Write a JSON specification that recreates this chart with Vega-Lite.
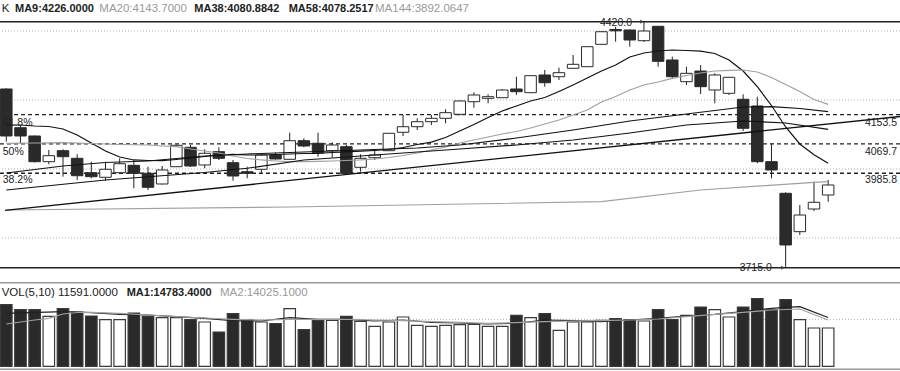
{
"$schema":"https://vega.github.io/schema/vega-lite/v6.json",
"width":900,"height":371,"autosize":{"type":"none"},"padding":0,"background":"white",
"config":{"view":{"stroke":null},"scale":{"continuousPadding":0}},
"datasets":{
"candles":[
{"i":0,"o":4227.2,"h":4229,"l":4076.2,"c":4092.5,"v":18670,"d":"dn"},
{"i":1,"o":4116.3,"h":4121.1,"l":4071.6,"c":4092.5,"v":17157,"d":"dn"},
{"i":2,"o":4092.5,"h":4094,"l":4016.6,"c":4018.9,"v":17157,"d":"dn"},
{"i":3,"o":4018.9,"h":4052.4,"l":4011.4,"c":4036.1,"v":15130,"d":"up"},
{"i":4,"o":4050.4,"h":4054.4,"l":3975.9,"c":4033.2,"v":17460,"d":"dn"},
{"i":5,"o":4028.6,"h":4040.1,"l":3966.4,"c":3978.7,"v":16431,"d":"dn"},
{"i":6,"o":3987.3,"h":4018.9,"l":3971.3,"c":3975.9,"v":15221,"d":"dn"},
{"i":7,"o":3974.2,"h":4018.9,"l":3964.4,"c":3997.1,"v":14131,"d":"up"},
{"i":8,"o":3987.3,"h":4028.6,"l":3986.5,"c":4013.1,"v":14131,"d":"up"},
{"i":9,"o":4008.5,"h":4023.7,"l":3942.6,"c":3985.6,"v":16129,"d":"dn"},
{"i":10,"o":3985.6,"h":4004.5,"l":3937.8,"c":3945.5,"v":15130,"d":"dn"},
{"i":11,"o":3955,"h":4006.5,"l":3953.5,"c":3995.1,"v":14737,"d":"up"},
{"i":12,"o":4004.5,"h":4068,"l":4003.7,"c":4065.8,"v":14737,"d":"up"},
{"i":13,"o":4060.1,"h":4066.7,"l":4003.7,"c":4006.5,"v":14131,"d":"dn"},
{"i":14,"o":4009.4,"h":4054.4,"l":4000,"c":4042.9,"v":13405,"d":"up"},
{"i":15,"o":4047.5,"h":4060.1,"l":4023.7,"c":4028.6,"v":10379,"d":"dn"},
{"i":16,"o":4016,"h":4023.7,"l":3964.4,"c":3977.9,"v":15947,"d":"dn"},
{"i":17,"o":3990.2,"h":4004.5,"l":3971.3,"c":3985.6,"v":14131,"d":"dn"},
{"i":18,"o":3997.1,"h":4041,"l":3987.3,"c":4038.1,"v":13405,"d":"up"},
{"i":19,"o":4038.1,"h":4044.6,"l":4025.2,"c":4026.6,"v":12921,"d":"dn"},
{"i":20,"o":4025.7,"h":4102,"l":4025.2,"c":4079,"v":17460,"d":"up"},
{"i":21,"o":4079,"h":4085.9,"l":4060.1,"c":4063.8,"v":11105,"d":"dn"},
{"i":22,"o":4071.6,"h":4102,"l":4033.2,"c":4044.6,"v":13920,"d":"dn"},
{"i":23,"o":4050.4,"h":4074.4,"l":4031.5,"c":4066.7,"v":13920,"d":"up"},
{"i":24,"o":4061.8,"h":4066.7,"l":3980.8,"c":3985.6,"v":15130,"d":"dn"},
{"i":25,"o":4002.8,"h":4040.1,"l":3990.2,"c":4028.6,"v":13617,"d":"up"},
{"i":26,"o":4030.3,"h":4050.4,"l":4023.7,"c":4038.1,"v":12104,"d":"up"},
{"i":27,"o":4050.4,"h":4101,"l":4049.5,"c":4100.2,"v":13405,"d":"up"},
{"i":28,"o":4103.1,"h":4152.7,"l":4092.5,"c":4119.1,"v":14918,"d":"up"},
{"i":29,"o":4119.1,"h":4143.2,"l":4109.7,"c":4133.5,"v":12407,"d":"up"},
{"i":30,"o":4133.5,"h":4152.7,"l":4124,"c":4143.2,"v":12104,"d":"up"},
{"i":31,"o":4143.2,"h":4169,"l":4128.9,"c":4159.3,"v":12407,"d":"up"},
{"i":32,"o":4154.7,"h":4194.2,"l":4151.2,"c":4192.8,"v":12618,"d":"up"},
{"i":33,"o":4190.8,"h":4217.7,"l":4173.6,"c":4210,"v":12709,"d":"up"},
{"i":34,"o":4200.5,"h":4212,"l":4186.2,"c":4205.1,"v":12104,"d":"up"},
{"i":35,"o":4202.2,"h":4227.2,"l":4201.4,"c":4224.3,"v":12104,"d":"up"},
{"i":36,"o":4227.2,"h":4262.4,"l":4210,"c":4219.4,"v":15433,"d":"dn"},
{"i":37,"o":4216.6,"h":4266.4,"l":4215.7,"c":4265.3,"v":14737,"d":"up"},
{"i":38,"o":4267.3,"h":4281.6,"l":4233.8,"c":4245.2,"v":15947,"d":"dn"},
{"i":39,"o":4262.4,"h":4288.2,"l":4253,"c":4273.9,"v":10894,"d":"up"},
{"i":40,"o":4286.5,"h":4324.6,"l":4286,"c":4297.9,"v":13405,"d":"up"},
{"i":41,"o":4291.1,"h":4349.5,"l":4290.2,"c":4348.4,"v":13405,"d":"up"},
{"i":42,"o":4355.2,"h":4392.5,"l":4354.1,"c":4391.3,"v":13920,"d":"up"},
{"i":43,"o":4397.7,"h":4405.7,"l":4362.7,"c":4393.9,"v":14434,"d":"dn"},
{"i":44,"o":4396.2,"h":4397.7,"l":4348.4,"c":4367.6,"v":14131,"d":"dn"},
{"i":45,"o":4365.6,"h":4420,"l":4361.8,"c":4393.4,"v":13708,"d":"up"},
{"i":46,"o":4406.8,"h":4407.7,"l":4291.1,"c":4306.5,"v":17157,"d":"dn"},
{"i":47,"o":4310.3,"h":4319.7,"l":4257.8,"c":4262.4,"v":14131,"d":"dn"},
{"i":48,"o":4248.1,"h":4291.1,"l":4238.6,"c":4272.1,"v":15433,"d":"up"},
{"i":49,"o":4278.7,"h":4295.9,"l":4212.8,"c":4233.8,"v":17944,"d":"dn"},
{"i":50,"o":4224.3,"h":4272.1,"l":4186.2,"c":4267.3,"v":17157,"d":"up"},
{"i":51,"o":4214.8,"h":4261.5,"l":4210,"c":4260.7,"v":14918,"d":"up"},
{"i":52,"o":4197.7,"h":4212,"l":4106.8,"c":4114.6,"v":17944,"d":"dn"},
{"i":53,"o":4178.5,"h":4205.1,"l":4014.3,"c":4018.9,"v":20486,"d":"dn"},
{"i":54,"o":4018.9,"h":4071.6,"l":3971.3,"c":3995.1,"v":17157,"d":"dn"},
{"i":55,"o":3928.3,"h":3931.2,"l":3715,"c":3780.2,"v":20183,"d":"dn"},
{"i":56,"o":3818.3,"h":3894.8,"l":3808.8,"c":3866.1,"v":14131,"d":"up"},
{"i":57,"o":3883.3,"h":3961.6,"l":3877.6,"c":3902.5,"v":11591,"d":"up"},
{"i":58,"o":3923.4,"h":3966.4,"l":3904.2,"c":3952.1,"v":11591,"d":"up"}
],
"ma":[
{"s":"MA9","i":0,"p":4124.0},{"s":"MA9","i":1,"p":4124.0},{"s":"MA9","i":2,"p":4121.2},{"s":"MA9","i":3,"p":4119.7},{"s":"MA9","i":4,"p":4112.6},{"s":"MA9","i":5,"p":4095.4},{"s":"MA9","i":6,"p":4072.5},{"s":"MA9","i":7,"p":4049.5},{"s":"MA9","i":8,"p":4032.3},{"s":"MA9","i":9,"p":4023.8},{"s":"MA9","i":10,"p":4022.3},{"s":"MA9","i":11,"p":4021.7},{"s":"MA9","i":12,"p":4025.2},{"s":"MA9","i":13,"p":4029.5},{"s":"MA9","i":14,"p":4033.8},{"s":"MA9","i":15,"p":4038.1},{"s":"MA9","i":16,"p":4040.1},{"s":"MA9","i":17,"p":4038.1},{"s":"MA9","i":18,"p":4038.1},{"s":"MA9","i":19,"p":4039.5},{"s":"MA9","i":20,"p":4040.9},{"s":"MA9","i":21,"p":4042.4},{"s":"MA9","i":22,"p":4042.9},{"s":"MA9","i":23,"p":4045.2},{"s":"MA9","i":24,"p":4047.2},{"s":"MA9","i":25,"p":4049.0},{"s":"MA9","i":26,"p":4051.0},{"s":"MA9","i":27,"p":4053.8},{"s":"MA9","i":28,"p":4059.6},{"s":"MA9","i":29,"p":4068.2},{"s":"MA9","i":30,"p":4074.8},{"s":"MA9","i":31,"p":4088.2},{"s":"MA9","i":32,"p":4106.8},{"s":"MA9","i":33,"p":4125.5},{"s":"MA9","i":34,"p":4145.5},{"s":"MA9","i":35,"p":4164.2},{"s":"MA9","i":36,"p":4178.5},{"s":"MA9","i":37,"p":4192.8},{"s":"MA9","i":38,"p":4202.8},{"s":"MA9","i":39,"p":4220.0},{"s":"MA9","i":40,"p":4238.6},{"s":"MA9","i":41,"p":4258.7},{"s":"MA9","i":42,"p":4278.8},{"s":"MA9","i":43,"p":4296.0},{"s":"MA9","i":44,"p":4318.9},{"s":"MA9","i":45,"p":4330.3},{"s":"MA9","i":46,"p":4336.1},{"s":"MA9","i":47,"p":4338.9},{"s":"MA9","i":48,"p":4337.5},{"s":"MA9","i":49,"p":4335.5},{"s":"MA9","i":50,"p":4328.9},{"s":"MA9","i":51,"p":4310.3},{"s":"MA9","i":52,"p":4278.8},{"s":"MA9","i":53,"p":4233.8},{"s":"MA9","i":54,"p":4179.9},{"s":"MA9","i":55,"p":4118.3},{"s":"MA9","i":56,"p":4069.6},{"s":"MA9","i":57,"p":4038.9},{"s":"MA9","i":58,"p":4014.3},
{"s":"MA20","i":0,"p":4071.6},{"s":"MA20","i":2,"p":4072.5},{"s":"MA20","i":4,"p":4073.3},{"s":"MA20","i":6,"p":4071.0},{"s":"MA20","i":8,"p":4068.2},{"s":"MA20","i":10,"p":4066.7},{"s":"MA20","i":11,"p":4063.9},{"s":"MA20","i":12,"p":4061.9},{"s":"MA20","i":13,"p":4055.3},{"s":"MA20","i":14,"p":4049.5},{"s":"MA20","i":15,"p":4043.8},{"s":"MA20","i":16,"p":4035.2},{"s":"MA20","i":17,"p":4028.0},{"s":"MA20","i":18,"p":4023.8},{"s":"MA20","i":19,"p":4020.9},{"s":"MA20","i":20,"p":4018.9},{"s":"MA20","i":21,"p":4018.9},{"s":"MA20","i":22,"p":4019.5},{"s":"MA20","i":23,"p":4020.9},{"s":"MA20","i":24,"p":4022.3},{"s":"MA20","i":25,"p":4023.8},{"s":"MA20","i":26,"p":4026.6},{"s":"MA20","i":27,"p":4030.9},{"s":"MA20","i":28,"p":4036.6},{"s":"MA20","i":29,"p":4043.8},{"s":"MA20","i":30,"p":4052.4},{"s":"MA20","i":31,"p":4061.0},{"s":"MA20","i":32,"p":4072.5},{"s":"MA20","i":33,"p":4081.1},{"s":"MA20","i":34,"p":4089.7},{"s":"MA20","i":35,"p":4098.2},{"s":"MA20","i":36,"p":4105.4},{"s":"MA20","i":37,"p":4115.4},{"s":"MA20","i":38,"p":4126.9},{"s":"MA20","i":39,"p":4138.4},{"s":"MA20","i":40,"p":4152.7},{"s":"MA20","i":41,"p":4167.0},{"s":"MA20","i":42,"p":4189.9},{"s":"MA20","i":43,"p":4205.7},{"s":"MA20","i":44,"p":4224.3},{"s":"MA20","i":45,"p":4238.6},{"s":"MA20","i":46,"p":4247.2},{"s":"MA20","i":47,"p":4257.8},{"s":"MA20","i":48,"p":4265.9},{"s":"MA20","i":49,"p":4273.0},{"s":"MA20","i":50,"p":4278.8},{"s":"MA20","i":51,"p":4280.8},{"s":"MA20","i":52,"p":4281.6},{"s":"MA20","i":53,"p":4275.9},{"s":"MA20","i":54,"p":4260.1},{"s":"MA20","i":55,"p":4240.1},{"s":"MA20","i":56,"p":4220.0},{"s":"MA20","i":57,"p":4197.1},{"s":"MA20","i":58,"p":4183.3},
{"s":"MA38","i":0,"p":3986.5},{"s":"MA38","i":4,"p":4006.6},{"s":"MA38","i":7,"p":4016.6},{"s":"MA38","i":10,"p":4020.9},{"s":"MA38","i":14,"p":4035.2},{"s":"MA38","i":17,"p":4040.9},{"s":"MA38","i":21,"p":4046.7},{"s":"MA38","i":25,"p":4052.4},{"s":"MA38","i":29,"p":4058.1},{"s":"MA38","i":32,"p":4066.7},{"s":"MA38","i":36,"p":4086.8},{"s":"MA38","i":40,"p":4109.7},{"s":"MA38","i":44,"p":4135.5},{"s":"MA38","i":48,"p":4155.6},{"s":"MA38","i":52,"p":4175.6},{"s":"MA38","i":54,"p":4176.5},{"s":"MA38","i":56,"p":4171.3},{"s":"MA38","i":58,"p":4162.1},
{"s":"MA58","i":0,"p":3937.8},{"s":"MA58","i":7,"p":3966.4},{"s":"MA58","i":14,"p":3987.9},{"s":"MA58","i":17,"p":4000.0},{"s":"MA58","i":21,"p":4023.8},{"s":"MA58","i":25,"p":4035.2},{"s":"MA58","i":29,"p":4046.7},{"s":"MA58","i":32,"p":4055.3},{"s":"MA58","i":36,"p":4066.7},{"s":"MA58","i":40,"p":4081.1},{"s":"MA58","i":44,"p":4101.1},{"s":"MA58","i":48,"p":4124.0},{"s":"MA58","i":52,"p":4135.5},{"s":"MA58","i":55,"p":4129.8},{"s":"MA58","i":58,"p":4111.7},
{"s":"MA144","i":0,"p":3880.5},{"s":"MA144","i":20,"p":3889.1},{"s":"MA144","i":42,"p":3904.3},{"s":"MA144","i":49,"p":3937.8},{"s":"MA144","i":57,"p":3959.8},{"s":"MA144","i":58,"p":3961.6}
],
"trend":[{"i":-0.09,"p":3879.6},{"i":63.07,"p":4148.4}],
"vma":[
{"s":"MA1","i":0,"v":16038},{"s":"MA1","i":4,"v":16522},{"s":"MA1","i":6,"v":16219},{"s":"MA1","i":8,"v":15735},{"s":"MA1","i":10,"v":15523},{"s":"MA1","i":12,"v":15009},{"s":"MA1","i":14,"v":14525},{"s":"MA1","i":16,"v":13799},{"s":"MA1","i":18,"v":13708},{"s":"MA1","i":20,"v":14706},{"s":"MA1","i":22,"v":14222},{"s":"MA1","i":24,"v":14222},{"s":"MA1","i":26,"v":13708},{"s":"MA1","i":28,"v":14010},{"s":"MA1","i":30,"v":13314},{"s":"MA1","i":32,"v":13103},{"s":"MA1","i":34,"v":12800},{"s":"MA1","i":36,"v":13012},{"s":"MA1","i":38,"v":14010},{"s":"MA1","i":40,"v":13799},{"s":"MA1","i":42,"v":13496},{"s":"MA1","i":44,"v":14010},{"s":"MA1","i":46,"v":14525},{"s":"MA1","i":48,"v":15221},{"s":"MA1","i":50,"v":15735},{"s":"MA1","i":52,"v":16522},{"s":"MA1","i":54,"v":17551},{"s":"MA1","i":55,"v":17853},{"s":"MA1","i":56,"v":18035},{"s":"MA1","i":58,"v":14783},
{"s":"MA2","i":0,"v":12800},{"s":"MA2","i":2,"v":14010},{"s":"MA2","i":3,"v":14525},{"s":"MA2","i":4,"v":15826},{"s":"MA2","i":5,"v":16280},{"s":"MA2","i":6,"v":16340},{"s":"MA2","i":8,"v":16038},{"s":"MA2","i":10,"v":15523},{"s":"MA2","i":12,"v":15009},{"s":"MA2","i":14,"v":14616},{"s":"MA2","i":16,"v":14222},{"s":"MA2","i":18,"v":14010},{"s":"MA2","i":20,"v":14222},{"s":"MA2","i":24,"v":14222},{"s":"MA2","i":26,"v":14010},{"s":"MA2","i":28,"v":13799},{"s":"MA2","i":30,"v":13496},{"s":"MA2","i":32,"v":13314},{"s":"MA2","i":34,"v":13012},{"s":"MA2","i":36,"v":13193},{"s":"MA2","i":38,"v":13496},{"s":"MA2","i":40,"v":13708},{"s":"MA2","i":42,"v":13799},{"s":"MA2","i":44,"v":14010},{"s":"MA2","i":46,"v":14313},{"s":"MA2","i":48,"v":15009},{"s":"MA2","i":50,"v":15735},{"s":"MA2","i":52,"v":16340},{"s":"MA2","i":54,"v":17036},{"s":"MA2","i":56,"v":17339},{"s":"MA2","i":58,"v":14025}
],
"hl":[
{"p":4393.4,"k":"grid"},{"p":4195.7,"k":"grid"},{"p":3998.0,"k":"grid"},{"p":3800.3,"k":"grid"},
{"p":4153.5,"k":"fib"},{"p":4069.7,"k":"fib"},{"p":3985.8,"k":"fib"},
{"p":4420,"k":"frame"},{"p":3715,"k":"frame"}
],
"vl":[{"v":25297,"k":"frame"},{"v":-908,"k":"frame"},{"v":14222,"k":"grid"}],
"txt":[
{"t":"K","i":-0.325,"p":4448.7,"g":"hn"},
{"t":"MA9:4226.0000","i":0.614,"p":4448.7,"g":"hb"},
{"t":"MA20:4143.7000","i":6.563,"p":4448.7,"g":"hg"},
{"t":"MA38:4080.8842","i":13.268,"p":4448.7,"g":"hb"},
{"t":"MA58:4078.2517","i":19.93,"p":4448.7,"g":"hb"},
{"t":"MA144:3892.0647","i":26.02,"p":4448.7,"g":"hg"},
{"t":"VOL(5,10) 11591.0000","i":-0.325,"p":3632.6,"g":"hn"},
{"t":"MA1:14783.4000","i":8.497,"p":3632.6,"g":"hb"},
{"t":"MA2:14025.1000","i":15.08,"p":3632.6,"g":"hg"},
{"t":"61.8%","i":-0.254,"p":4121.1,"g":"ll"},
{"t":"50%","i":-0.254,"p":4038.1,"g":"ll"},
{"t":"38.2%","i":-0.254,"p":3958.7,"g":"ll"},
{"t":"4153.5","i":62.86,"p":4121.1,"g":"rl"},
{"t":"4069.7","i":62.86,"p":4038.1,"g":"rl"},
{"t":"3985.8","i":62.86,"p":3958.7,"g":"rl"},
{"t":"4420.0","i":44.16,"p":4407.7,"g":"rl"},
{"t":"3715.0","i":54.02,"p":3706.5,"g":"rl"}
],
"arrows":[{"i":44.85,"p":4420},{"i":54.8,"p":3715}]
},
"layer":[
{"data":{"name":"hl"},"transform":[{"filter":"datum.k==='grid'"}],"mark":{"type":"rule","color":"#b0b0b0","strokeWidth":1,"strokeDash":[1,2]},
 "encoding":{"y":{"field":"p","type":"quantitative","scale":{"domain":[3419.1,4482.2],"nice":false,"zero":false,"padding":0},"axis":null}}},
{"data":{"name":"hl"},"transform":[{"filter":"datum.k==='fib'"}],"mark":{"type":"rule","color":"#222","strokeWidth":1.3,"strokeDash":[4,3]},
 "encoding":{"y":{"field":"p","type":"quantitative","scale":{"domain":[3419.1,4482.2],"nice":false,"zero":false,"padding":0},"axis":null}}},
{"data":{"name":"hl"},"transform":[{"filter":"datum.k==='frame'"}],"mark":{"type":"rule","color":"#222","strokeWidth":1.5},
 "encoding":{"y":{"field":"p","type":"quantitative","scale":{"domain":[3419.1,4482.2],"nice":false,"zero":false,"padding":0},"axis":null}}},
{"data":{"name":"vl"},"transform":[{"filter":"datum.k==='frame'"}],"mark":{"type":"rule","color":"#9a9a9a","strokeWidth":1.5},
 "encoding":{"y":{"field":"v","type":"quantitative","scale":{"domain":[-1422,110842],"nice":false,"zero":false,"padding":0},"axis":null}}},
{"data":{"name":"vl"},"transform":[{"filter":"datum.k==='grid'"}],"mark":{"type":"rule","color":"#b0b0b0","strokeWidth":1,"strokeDash":[1,2]},
 "encoding":{"y":{"field":"v","type":"quantitative","scale":{"domain":[-1422,110842],"nice":false,"zero":false,"padding":0},"axis":null}}},
{"data":{"name":"candles"},"mark":{"type":"rule","color":"#222","strokeWidth":1},
 "encoding":{"x":{"field":"i","type":"quantitative","scale":{"domain":[-0.445,63.07],"nice":false,"zero":false,"padding":0},"axis":null},
  "y":{"field":"l","type":"quantitative","scale":{"domain":[3419.1,4482.2],"nice":false,"zero":false,"padding":0},"axis":null},"y2":{"field":"h"}}},
{"data":{"name":"candles"},"mark":{"type":"bar","width":11.5,"stroke":"#2a2a2a","strokeWidth":1},
 "encoding":{"x":{"field":"i","type":"quantitative","axis":null},
  "y":{"field":"o","type":"quantitative","scale":{"domain":[3419.1,4482.2],"nice":false,"zero":false,"padding":0},"axis":null},"y2":{"field":"c"},
  "fill":{"field":"d","type":"nominal","scale":{"domain":["up","dn"],"range":["#ffffff","#2a2a2a"]},"legend":null}}},
{"data":{"name":"candles"},"mark":{"type":"bar","width":11.5,"stroke":"#3a3a3a","strokeWidth":1.2},
 "encoding":{"x":{"field":"i","type":"quantitative","axis":null},
  "y":{"field":"v","type":"quantitative","scale":{"domain":[-1422,110842],"nice":false,"zero":false,"padding":0},"axis":null},
  "fill":{"field":"d","type":"nominal","scale":{"domain":["up","dn"],"range":["#ffffff","#2a2a2a"]},"legend":null}}},
{"data":{"name":"ma"},"mark":{"type":"line","strokeWidth":1.2},
 "encoding":{"x":{"field":"i","type":"quantitative","axis":null},
  "y":{"field":"p","type":"quantitative","scale":{"domain":[3419.1,4482.2],"nice":false,"zero":false,"padding":0},"axis":null},
  "color":{"field":"s","type":"nominal","scale":{"domain":["MA9","MA20","MA38","MA58","MA144"],"range":["#111111","#a0a0a0","#111111","#111111","#a0a0a0"]},"legend":null},
  "order":{"field":"i","type":"quantitative"}}},
{"data":{"name":"trend"},"mark":{"type":"line","strokeWidth":1.3,"color":"#111"},
 "encoding":{"x":{"field":"i","type":"quantitative","axis":null},
  "y":{"field":"p","type":"quantitative","scale":{"domain":[3419.1,4482.2],"nice":false,"zero":false,"padding":0},"axis":null}}},
{"data":{"name":"vma"},"mark":{"type":"line","strokeWidth":1.2},
 "encoding":{"x":{"field":"i","type":"quantitative","axis":null},
  "y":{"field":"v","type":"quantitative","scale":{"domain":[-1422,110842],"nice":false,"zero":false,"padding":0},"axis":null},
  "color":{"field":"s","type":"nominal","scale":{"domain":["MA1","MA2"],"range":["#222222","#a0a0a0"]},"legend":null},
  "order":{"field":"i","type":"quantitative"}}},
{"data":{"name":"arrows"},"mark":{"type":"point","shape":"triangle-right","size":18,"filled":true,"color":"#333"},
 "encoding":{"x":{"field":"i","type":"quantitative","axis":null},
  "y":{"field":"p","type":"quantitative","scale":{"domain":[3419.1,4482.2],"nice":false,"zero":false,"padding":0},"axis":null}}},
{"data":{"name":"txt"},"transform":[{"filter":"datum.g==='hn'"}],"mark":{"type":"text","align":"left","baseline":"alphabetic","font":"Liberation Sans","fontSize":11.5,"color":"#222"},
 "encoding":{"x":{"field":"i","type":"quantitative","axis":null},"y":{"field":"p","type":"quantitative","scale":{"domain":[3419.1,4482.2],"nice":false,"zero":false,"padding":0},"axis":null},"text":{"field":"t"}}},
{"data":{"name":"txt"},"transform":[{"filter":"datum.g==='hb'"}],"mark":{"type":"text","align":"left","baseline":"alphabetic","font":"Liberation Sans","fontSize":11,"fontWeight":"bold","color":"#222"},
 "encoding":{"x":{"field":"i","type":"quantitative","axis":null},"y":{"field":"p","type":"quantitative","scale":{"domain":[3419.1,4482.2],"nice":false,"zero":false,"padding":0},"axis":null},"text":{"field":"t"}}},
{"data":{"name":"txt"},"transform":[{"filter":"datum.g==='hg'"}],"mark":{"type":"text","align":"left","baseline":"alphabetic","font":"Liberation Sans","fontSize":11.5,"color":"#9a9a9a"},
 "encoding":{"x":{"field":"i","type":"quantitative","axis":null},"y":{"field":"p","type":"quantitative","scale":{"domain":[3419.1,4482.2],"nice":false,"zero":false,"padding":0},"axis":null},"text":{"field":"t"}}},
{"data":{"name":"txt"},"transform":[{"filter":"datum.g==='ll'"}],"mark":{"type":"text","align":"left","baseline":"alphabetic","font":"Liberation Sans","fontSize":10.5,"color":"#222"},
 "encoding":{"x":{"field":"i","type":"quantitative","axis":null},"y":{"field":"p","type":"quantitative","scale":{"domain":[3419.1,4482.2],"nice":false,"zero":false,"padding":0},"axis":null},"text":{"field":"t"}}},
{"data":{"name":"txt"},"transform":[{"filter":"datum.g==='rl'"}],"mark":{"type":"text","align":"right","baseline":"alphabetic","font":"Liberation Sans","fontSize":10.5,"color":"#222"},
 "encoding":{"x":{"field":"i","type":"quantitative","axis":null},"y":{"field":"p","type":"quantitative","scale":{"domain":[3419.1,4482.2],"nice":false,"zero":false,"padding":0},"axis":null},"text":{"field":"t"}}}
],
"resolve":{"scale":{"y":"independent","fill":"shared","color":"independent"}}
}
